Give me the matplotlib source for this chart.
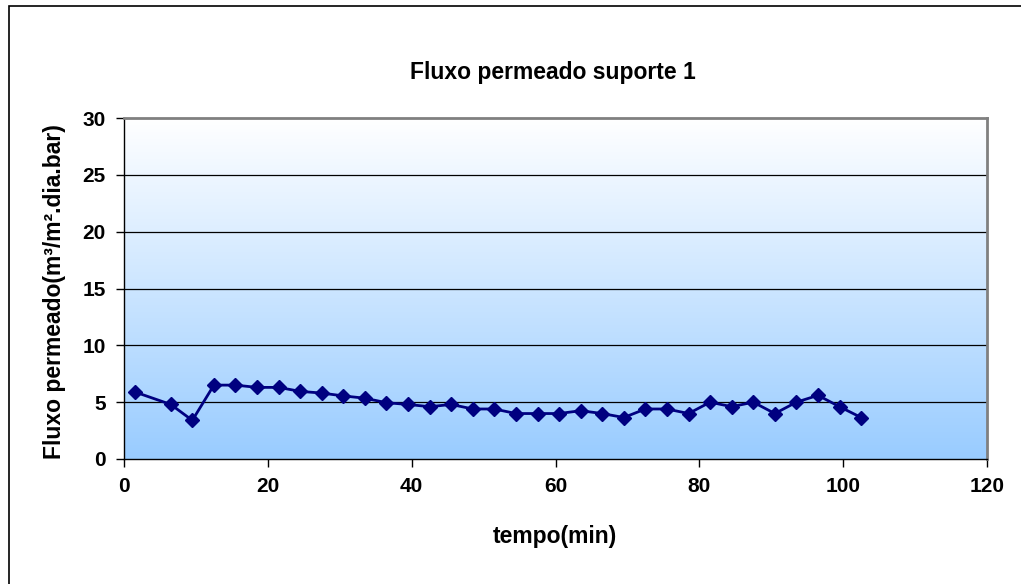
import numpy as np
import matplotlib
matplotlib.use('Agg')
import matplotlib.pyplot as plt
from matplotlib.colors import LinearSegmentedColormap
from matplotlib.patches import Rectangle

plt.rcParams['font.family'] = ['Liberation Sans', 'DejaVu Sans']

# tempo (min) e fluxo permeado
tempo = [1.5, 6.5, 9.5, 12.5, 15.5, 18.5, 21.5, 24.5, 27.5, 30.5, 33.5, 36.5,
         39.5, 42.5, 45.5, 48.5, 51.5, 54.5, 57.5, 60.5, 63.5, 66.5, 69.5, 72.5,
         75.5, 78.5, 81.5, 84.5, 87.5, 90.5, 93.5, 96.5, 99.5, 102.5]
fluxo = [5.9, 4.8, 3.4, 6.5, 6.5, 6.3, 6.3, 5.95, 5.8, 5.55, 5.35, 4.95,
         4.8, 4.6, 4.8, 4.4, 4.4, 4.0, 4.0, 4.0, 4.25, 4.0, 3.65, 4.4,
         4.4, 4.0, 5.0, 4.6, 5.0, 4.0, 5.0, 5.6, 4.6, 3.65]

x_ticks = [0, 20, 40, 60, 80, 100, 120]
y_ticks = [0, 5, 10, 15, 20, 25, 30]

W, H = 1021, 584
fig = plt.figure(figsize=(W / 100, H / 100), dpi=100)
ax = fig.add_axes([124 / W, 1 - 459 / H, (987 - 124) / W, (459 - 118) / H])

# fundo em degrade (branco no topo, azul claro embaixo)
cmap = LinearSegmentedColormap.from_list('bg', ['#99CCFF', '#FFFFFF'])
grad = np.linspace(0, 1, 256).reshape(-1, 1)
ax.imshow(grad, cmap=cmap, aspect='auto', origin='lower',
          extent=[0, 120, 0, 30], zorder=0)

for y in y_ticks[1:-1]:
    ax.axhline(y, color='black', lw=0.9, zorder=1)

ax.plot(tempo, fluxo, color='#000080', lw=2, marker='D', markersize=7.5,
        zorder=3, clip_on=False)

ax.set_xlim(0, 120)
ax.set_ylim(0, 30)
ax.set_xticks(x_ticks)
ax.set_yticks(y_ticks)
ax.tick_params(direction='out', length=6, width=1, labelsize=15, pad=7)
for lab in ax.get_xticklabels() + ax.get_yticklabels():
    lab.set_fontweight('bold')

for s in ['top', 'right']:
    ax.spines[s].set_color('#808080')
    ax.spines[s].set_linewidth(2)
for s in ['left', 'bottom']:
    ax.spines[s].set_color('black')
    ax.spines[s].set_linewidth(1)

fig.text(553 / W, 1 - 73 / H, 'Fluxo permeado suporte 1', ha='center',
         va='center', fontsize=16.5, fontweight='bold')
fig.text(555 / W, 1 - 537 / H, 'tempo(min)', ha='center', va='center',
         fontsize=16.5, fontweight='bold')
fig.text(55 / W, 1 - 292 / H, 'Fluxo permeado(m³/m².dia.bar)', ha='center',
         va='center', rotation=90, fontsize=16.5, fontweight='bold')

# moldura externa do grafico
fig.patches.append(Rectangle((9 / W, -0.05), 1.2, 1 - 6 / H + 0.05,
                             transform=fig.transFigure, fill=False,
                             edgecolor='black', lw=1.2))

fig.savefig('out.png', dpi=100)
